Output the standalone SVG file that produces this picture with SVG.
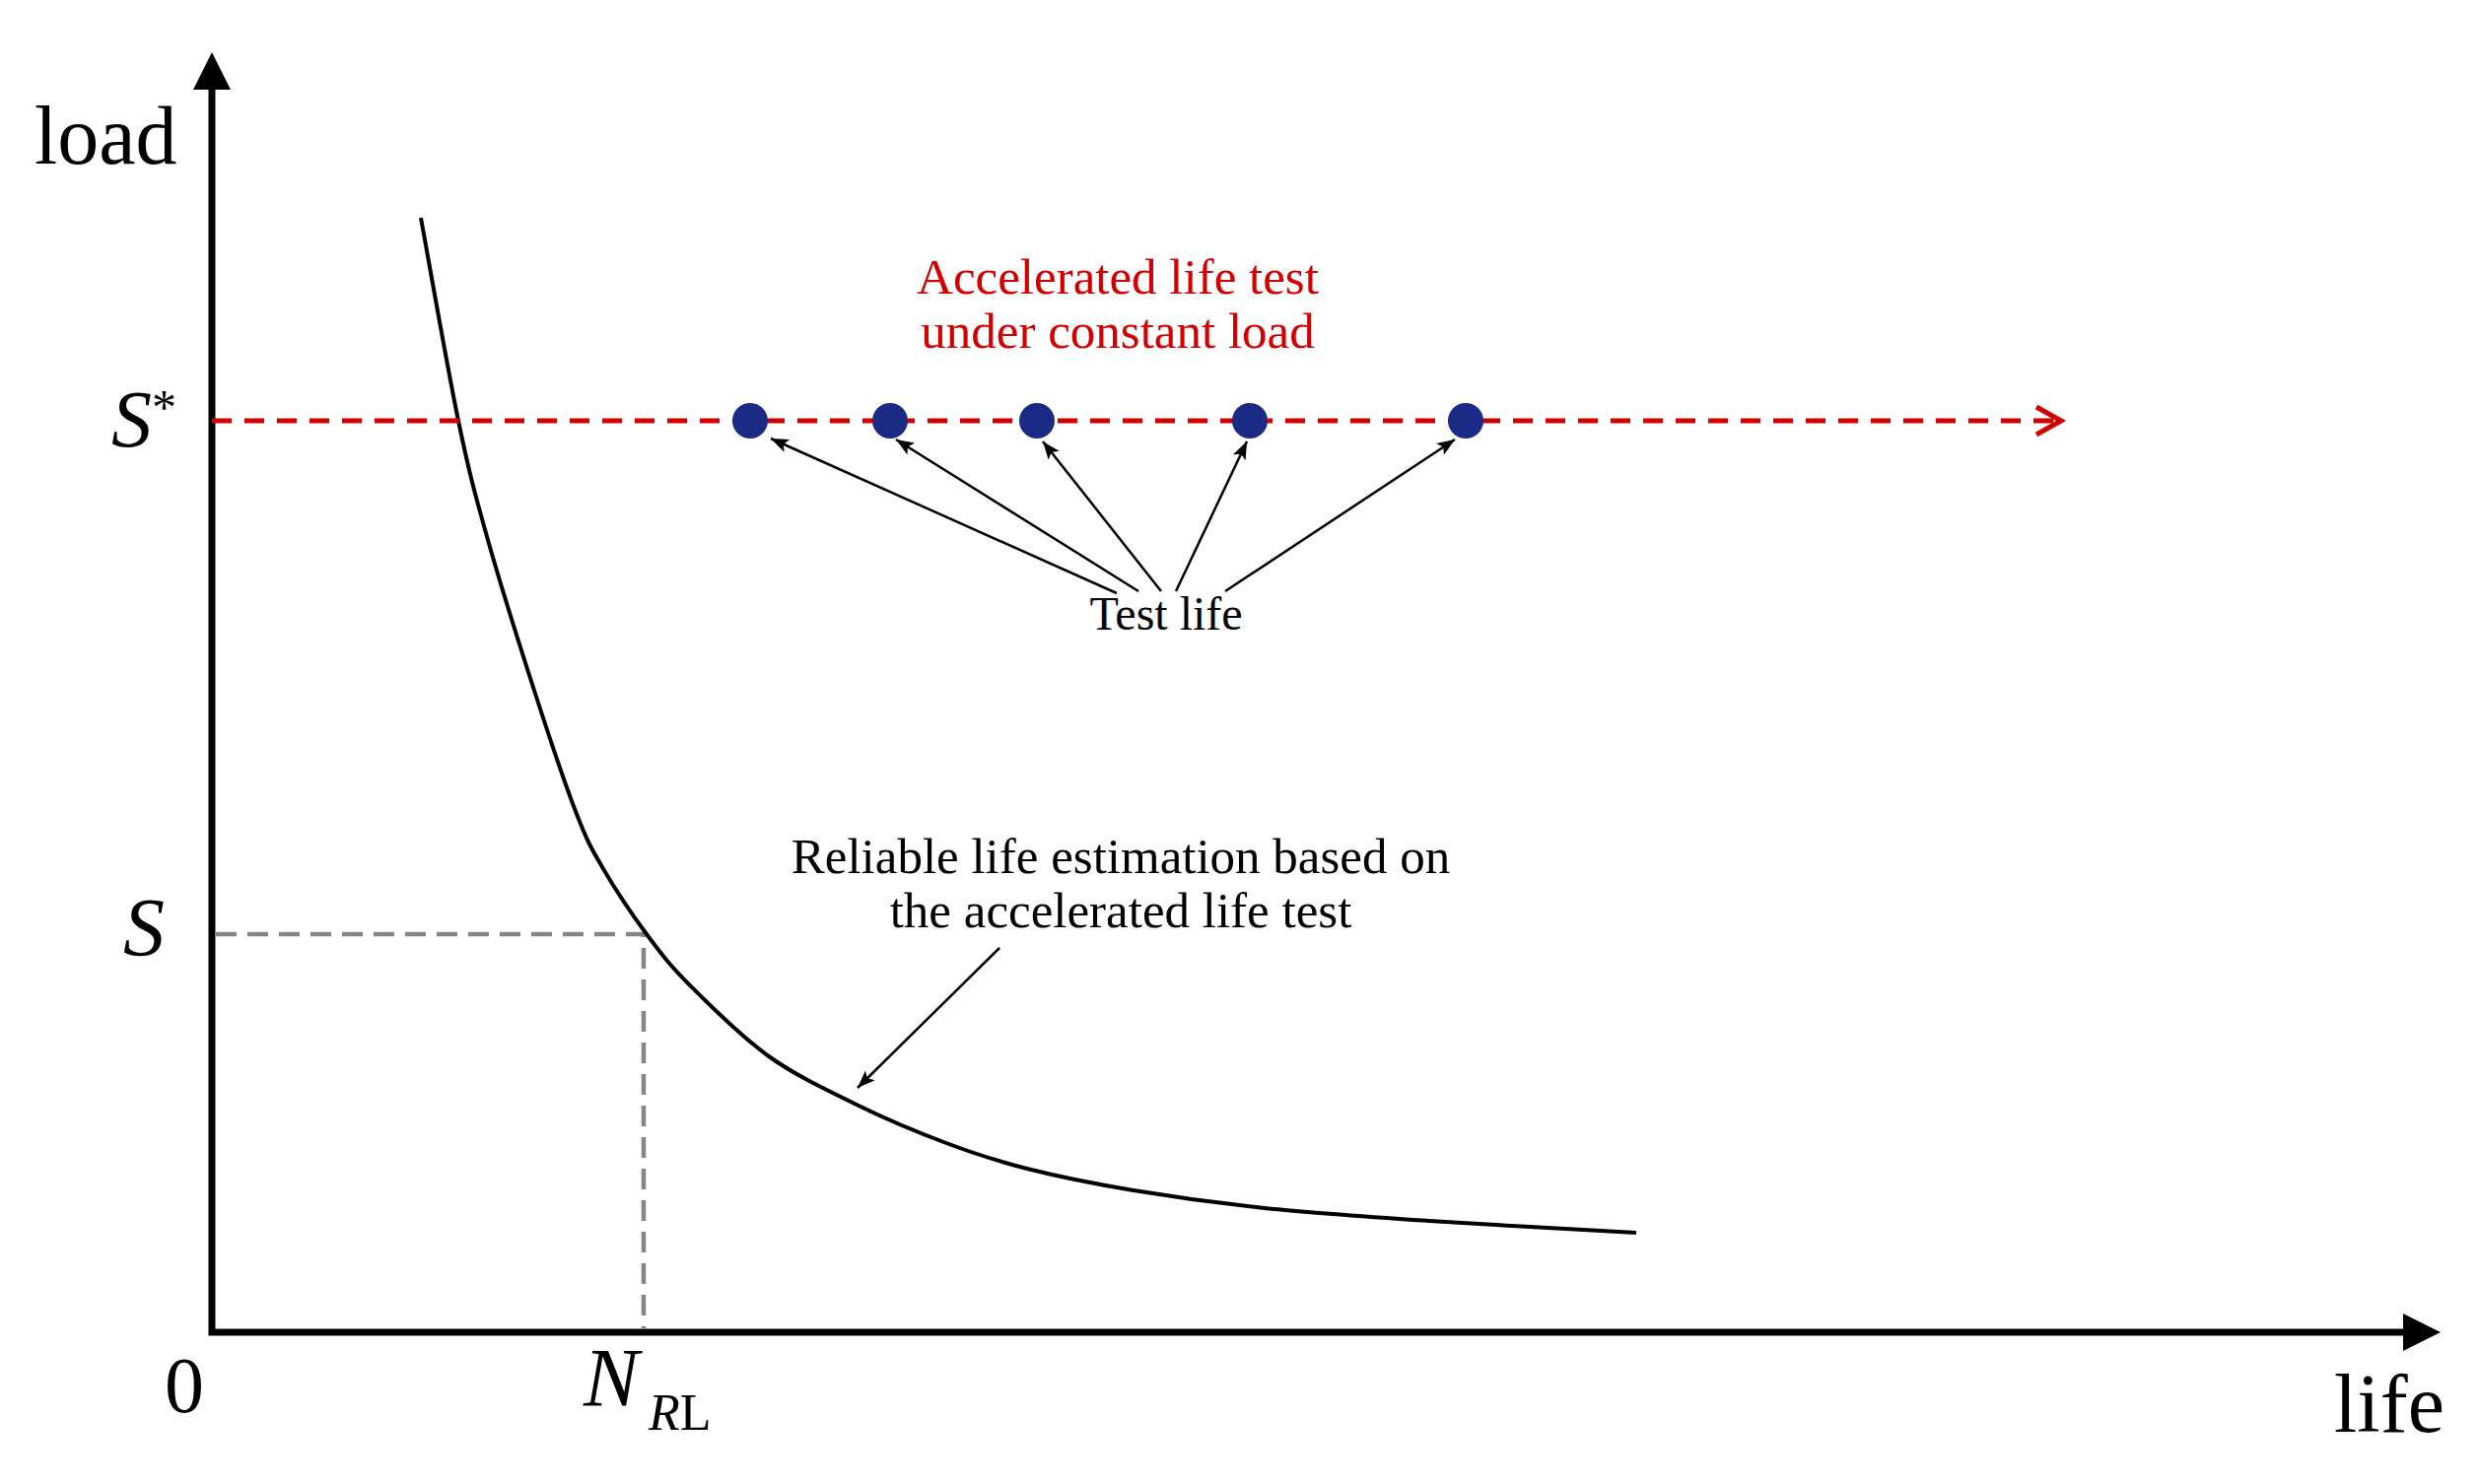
<svg xmlns="http://www.w3.org/2000/svg" width="2514" height="1506" viewBox="0 0 2514 1506">
<style>
.t{font-family:"Liberation Serif","Times New Roman",serif;fill:#000}
.red{fill:#d40000}
.it{font-style:italic}
.ax{fill:none;stroke:#000;stroke-width:7}
.lead{fill:none;stroke:#000;stroke-width:2.5}
.dot{fill:#1b2a84}
</style>
<defs>
<marker id="ah" markerUnits="userSpaceOnUse" markerWidth="20" markerHeight="16" viewBox="0 0 20 16" refX="18" refY="8" orient="auto">
<path d="M0,1 L18,8 L0,15 L4,8 Z" fill="#000"/>
</marker>
</defs>
<rect width="2514" height="1506" fill="#fff"/>

<g id="axes">
<path class="ax" d="M215,88 V1352 H2440" stroke-linejoin="miter"/>
<polygon points="196,91 234,91 215,53" fill="#000"/>
<polygon points="2438,1333 2438,1371 2476,1352" fill="#000"/>
<text class="t" x="35" y="166" font-size="84">load</text>
<text class="t" x="2368" y="1453" font-size="84">life</text>
<text class="t" x="167" y="1433" font-size="80">0</text>
<text class="t it" x="113" y="453" font-size="82">S<tspan font-size="50" font-style="normal" x="154" y="430">*</tspan></text>
<text class="t it" x="125" y="970" font-size="84">S</text>
<text class="t it" x="592" y="1427" font-size="84">N<tspan font-size="52" x="658" y="1451">R</tspan><tspan font-size="52" font-style="normal">L</tspan></text>
</g>

<g id="guides">
<path d="M219,948 H653 V1349" fill="none" stroke="#858585" stroke-width="4.5" stroke-dasharray="21 11"/>
</g>

<g id="curve">
<path fill="none" stroke="#000" stroke-width="4" d="M427,221 C433.3,255.3 453.7,372.5 465,427 C476.3,481.5 481.7,500.8 495,548 C508.3,595.2 530,663.7 545,710 C560,756.3 574,797.7 585,826 C596,854.3 599.2,859.7 611,880 C622.8,900.3 641.2,928 656,948 C670.8,968 679.3,979.3 700,1000 C720.7,1020.7 751.5,1051.7 780,1072 C808.5,1092.3 841,1107.3 871,1122 C901,1136.7 931.5,1149.3 960,1160 C988.5,1170.7 1010.3,1178 1042,1186 C1073.7,1194 1109.8,1201.3 1150,1208 C1190.2,1214.7 1233,1220.8 1283,1226 C1333,1231.2 1387.2,1234.8 1450,1239 C1512.8,1243.2 1625,1249 1660,1251"/>
</g>

<g id="constant-load-line">
<line x1="215" y1="427" x2="2086" y2="427" stroke="#d40000" stroke-width="5" stroke-dasharray="20 13"/>
<polyline points="2066,413 2091,427 2066,441" fill="none" stroke="#d40000" stroke-width="5" stroke-linejoin="miter"/>
<text class="t red" x="1134" y="298" font-size="51" text-anchor="middle">Accelerated life test</text>
<text class="t red" x="1134" y="353" font-size="51" text-anchor="middle">under constant load</text>
</g>

<g id="test-points">
<circle id="p1" class="dot" cx="761" cy="427" r="18"/>
<circle id="p2" class="dot" cx="903" cy="427" r="18"/>
<circle id="p3" class="dot" cx="1052" cy="427" r="18"/>
<circle id="p4" class="dot" cx="1268" cy="427" r="18"/>
<circle id="p5" class="dot" cx="1487" cy="427" r="18"/>
</g>

<g id="test-life-label">
<text class="t" x="1183" y="639" font-size="48" text-anchor="middle">Test life</text>
</g>

<g id="reliable-label">
<text class="t" x="1137" y="886" font-size="51" text-anchor="middle">Reliable life estimation based on</text>
<text class="t" x="1137" y="941" font-size="51" text-anchor="middle">the accelerated life test</text>
</g>

<g id="connectors">
<line class="lead" x1="1133" y1="602" x2="782" y2="445" marker-end="url(#ah)"/>
<line class="lead" x1="1155" y1="600" x2="909" y2="446" marker-end="url(#ah)"/>
<line class="lead" x1="1178" y1="600" x2="1058" y2="448" marker-end="url(#ah)"/>
<line class="lead" x1="1193" y1="600" x2="1265" y2="448" marker-end="url(#ah)"/>
<line class="lead" x1="1243" y1="600" x2="1476" y2="446" marker-end="url(#ah)"/>
<line class="lead" x1="1014" y1="962" x2="870" y2="1104" marker-end="url(#ah)"/>
</g>
</svg>
